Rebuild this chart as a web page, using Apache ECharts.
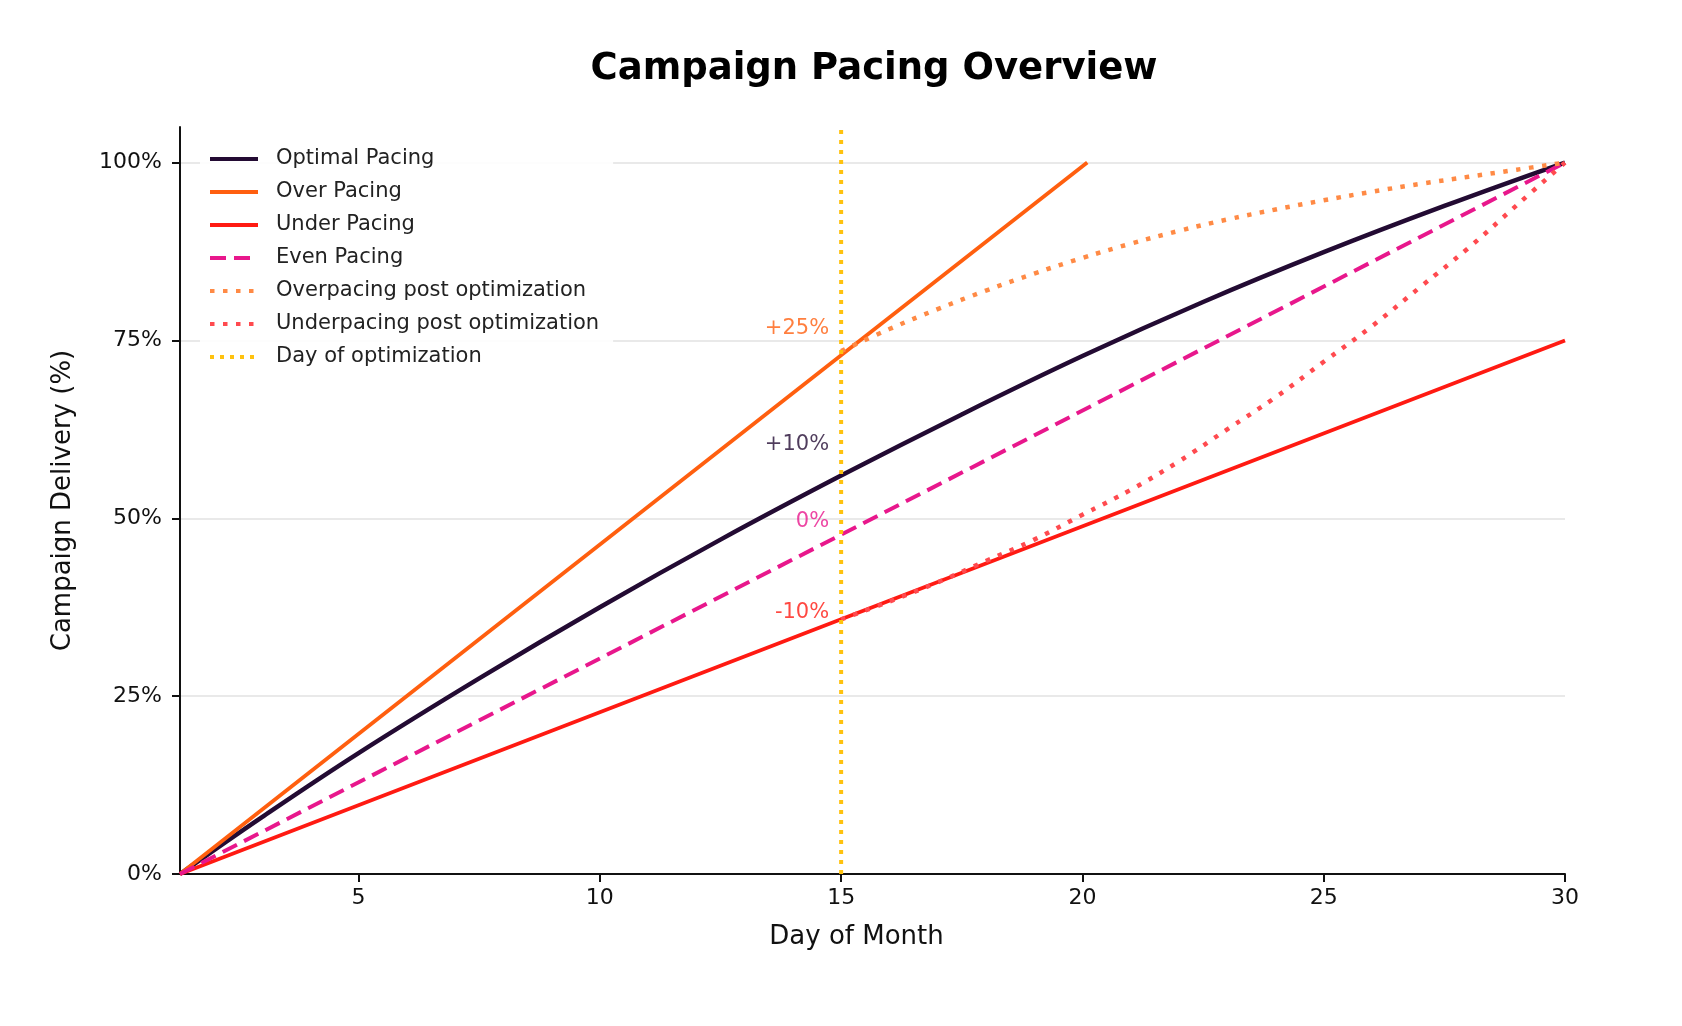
<!DOCTYPE html>
<html>
<head>
<meta charset="utf-8">
<title>Campaign Pacing Overview</title>
<script src="https://cdn.jsdelivr.net/npm/echarts@6/dist/echarts.min.js"></script>
<style>
    html, body { margin: 0; padding: 0; background: #fff; }
    #chart { width: 1682px; height: 1026px; }
</style>
</head>
<body>
<div id="chart"></div>
<script>
// data (delivery in %)
const optimalDays = [1.3, 3, 5, 7.5, 10, 12.5, 15, 17.5, 20, 22.5, 25, 27.5, 30];
const optimalPacing = [0, 8, 17, 27.5, 37.5, 47, 56, 64.6, 72.8, 80.4, 87.4, 93.9, 100];
const overDays = [1.3, 15, 20.1];
const overPacing = [0, 72.9, 100];
const straightDays = [1.3, 15, 30];
const underPacing = [0, 35.8, 75];
const evenPacing = [0, 47.7, 100];
const postDays = [15, 16, 17, 18, 19, 20, 21, 22, 23, 24, 25, 26, 27, 28, 29, 30];
const overPost = [73.5, 76.6, 79.4, 82, 84.4, 86.6, 88.6, 90.4, 92, 93.4, 94.7, 95.9, 97, 98, 99, 100];
const underPost = [35.8, 38.3, 41, 44, 47, 50.5, 54, 58, 62.5, 67, 72, 77, 82.5, 88, 94, 100];
const optimizationDay = 15;
const noteLabels = ['+25%', '+10%', '0%', '-10%'];
const noteValues = [76.7, 60.3, 49.5, 36.8];
const xTicks = [5, 10, 15, 20, 25, 30];
const yTicks = [0, 25, 50, 75, 100];

const COLORS = {
    optimal: '#230b33',
    over: '#ff5f0f',
    under: '#ff1a12',
    even: '#e8178c',
    overPost: '#ff8a45',
    underPost: '#ff4a4f',
    day: '#ffc20e'
};
const noteColors = [COLORS.over, COLORS.optimal, COLORS.even, COLORS.under];
const FONT = 'DejaVu Sans';

function pairs(xs, ys) {
    return xs.map((x, i) => [x, ys[i]]);
}

function lineSeries(name, data, color, type, width, smooth) {
    return {
        name: name,
        type: 'line',
        data: data,
        showSymbol: false,
        symbol: 'none',
        smooth: smooth || false,
        silent: true,
        lineStyle: {color: color, width: width, type: type, cap: 'butt'},
        itemStyle: {color: color},
        z: 3
    };
}

const option = {
    backgroundColor: '#fff',
    animation: false,
    title: {
        text: 'Campaign Pacing Overview',
        left: 869,
        top: 46,
        textAlign: 'center',
        textStyle: {fontFamily: FONT, fontSize: 37, fontWeight: 'bold', color: '#000'}
    },
    legend: {
        orient: 'vertical',
        left: 200,
        top: 143,
        itemWidth: 48,
        itemHeight: 14,
        itemGap: 9,
        padding: [4, 14, 4, 8],
        backgroundColor: 'rgba(255,255,255,0.9)',
        itemStyle: {opacity: 0},
        lineStyle: {width: 4},
        textStyle: {fontFamily: FONT, fontSize: 21, color: '#222', lineHeight: 24, padding: [0, 0, 0, 13]},
        data: ['Optimal Pacing', 'Over Pacing', 'Under Pacing', 'Even Pacing',
            'Overpacing post optimization', 'Underpacing post optimization', 'Day of optimization']
    },
    grid: {left: 180, right: 117, top: 127, bottom: 152, containLabel: false},
    xAxis: {
        type: 'value',
        min: 1.3,
        max: 30,
        name: 'Day of Month',
        nameLocation: 'middle',
        nameGap: 50,
        nameTextStyle: {fontFamily: FONT, fontSize: 26, color: '#111', padding: [0, 32, 0, 0]},
        axisLine: {lineStyle: {color: '#111', width: 2}},
        axisTick: {show: true, length: 8, lineStyle: {color: '#111', width: 2}, customValues: xTicks},
        axisLabel: {fontFamily: FONT, fontSize: 22, color: '#111', margin: 13, customValues: xTicks},
        splitLine: {show: false}
    },
    yAxis: {
        type: 'value',
        min: 0,
        max: 105,
        name: 'Campaign Delivery (%)',
        nameLocation: 'middle',
        nameGap: 104,
        nameTextStyle: {fontFamily: FONT, fontSize: 26, color: '#111'},
        axisLine: {show: true, lineStyle: {color: '#111', width: 2}},
        axisTick: {show: true, length: 8, lineStyle: {color: '#111', width: 2}, customValues: yTicks},
        axisLabel: {
            fontFamily: FONT, fontSize: 22, color: '#111', margin: 18,
            customValues: yTicks,
            formatter: v => v + '%'
        },
        splitLine: {show: true, lineStyle: {color: '#e2e2e2', width: 1.5}}
    },
    series: [
        lineSeries('Optimal Pacing', pairs(optimalDays, optimalPacing), COLORS.optimal, 'solid', 4.5, 0.4),
        lineSeries('Over Pacing', pairs(overDays, overPacing), COLORS.over, 'solid', 3.8),
        lineSeries('Under Pacing', pairs(straightDays, underPacing), COLORS.under, 'solid', 3.8),
        lineSeries('Even Pacing', pairs(straightDays, evenPacing), COLORS.even, [16, 8], 4),
        lineSeries('Overpacing post optimization', pairs(postDays, overPost), COLORS.overPost, [4.5, 8.5], 4.5, 0.4),
        lineSeries('Underpacing post optimization', pairs(postDays, underPost), COLORS.underPost, [4.5, 8.5], 4.5, 0.4),
        lineSeries('Day of optimization', [[optimizationDay, 0], [optimizationDay, 105]], COLORS.day, [4, 6], 4),
        {
            name: 'notes',
            type: 'scatter',
            symbolSize: 0,
            silent: true,
            z: 5,
            data: noteLabels.map((t, i) => ({
                value: [optimizationDay, noteValues[i]],
                label: {
                    show: true,
                    position: 'left',
                    distance: 12,
                    formatter: t,
                    color: noteColors[i],
                    fontFamily: FONT,
                    fontSize: 21
                }
            }))
        }
    ]
};

const myChart = echarts.init(document.querySelector('#chart'), null, {renderer: 'canvas'});
myChart.setOption(option);
</script>
</body>
</html>
